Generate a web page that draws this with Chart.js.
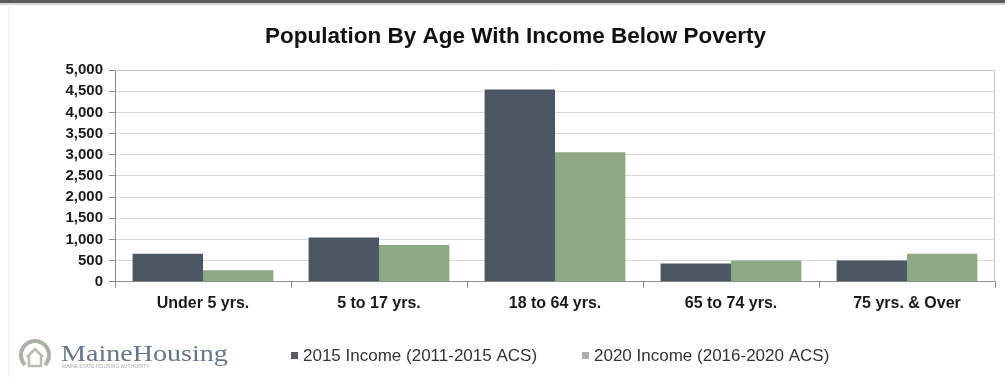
<!DOCTYPE html>
<html lang="en">
<head>
    <meta charset="UTF-8">
    <title>Population By Age With Income Below Poverty</title>
    <script src="https://cdn.jsdelivr.net/npm/chart.js"></script>
    <style>
        * { margin: 0; padding: 0; box-sizing: border-box; }
        body { background: #ffffff; width: 1005px; height: 377px; overflow: hidden; }
        .chart-box { position: relative; width: 1005px; height: 377px; }
    </style>
</head>
<body>
    <div class="chart-box">
        <canvas id="povertyChart"></canvas>
    </div>

    <script>
        // Age groups and counts of people below poverty
        const ageGroups = ['Under 5 yrs.', '5 to 17 yrs.', '18 to 64 yrs.', '65 to 74 yrs.', '75 yrs. & Over'];
        const income2015 = [665, 1045, 4540, 430, 500];
        const income2020 = [270, 870, 3060, 500, 665];
        const seriesNames = ['2015 Income (2011-2015 ACS)', '2020 Income (2016-2020 ACS)'];
        const yTickLabels = ['0', '500', '1,000', '1,500', '2,000', '2,500', '3,000', '3,500', '4,000', '4,500', '5,000'];

        const FONT = "'Liberation Sans', Arial, sans-serif";
        const swatchColors = ['#575d66', '#aab0a6'];

        // frame line across the top and faint page edges
        const framePlugin = {
            id: 'frame',
            beforeDraw(chart) {
                const ctx = chart.ctx;
                ctx.save();
                ctx.fillStyle = '#ffffff';
                ctx.fillRect(0, 0, chart.width, chart.height);
                ctx.fillStyle = '#5a5a5a';
                ctx.fillRect(0, 0, chart.width, 3);
                ctx.fillStyle = '#d6d6d6';
                ctx.fillRect(0, 3, chart.width, 2);
                ctx.strokeStyle = '#efefef';
                ctx.lineWidth = 1;
                ctx.beginPath();
                ctx.moveTo(8.5, 6);
                ctx.lineTo(8.5, chart.height);
                ctx.stroke();
                ctx.restore();
            }
        };

        // light box around the plot area
        const plotBorderPlugin = {
            id: 'plotBorder',
            beforeDatasetsDraw(chart) {
                const { ctx, chartArea: a } = chart;
                ctx.save();
                ctx.strokeStyle = '#c4c4c4';
                ctx.lineWidth = 1;
                ctx.beginPath();
                ctx.moveTo(a.left, a.top + 0.5);
                ctx.lineTo(a.right - 0.5, a.top + 0.5);
                ctx.lineTo(a.right - 0.5, a.bottom);
                ctx.stroke();
                ctx.restore();
            }
        };

        // legend row plus the MaineHousing mark in the footer
        const footerPlugin = {
            id: 'footer',
            afterDraw(chart) {
                const ctx = chart.ctx;
                ctx.save();

                // legend
                const startX = [291, 582];
                const y = 356;
                ctx.font = '17px ' + FONT;
                ctx.textBaseline = 'middle';
                chart.data.datasets.forEach((ds, i) => {
                    ctx.fillStyle = swatchColors[i];
                    ctx.fillRect(startX[i], y - 4, 7, 7);
                    ctx.fillStyle = '#333333';
                    ctx.fillText(ds.label, startX[i] + 12, y);
                });

                // logo icon
                ctx.strokeStyle = '#a9b3a4';
                ctx.lineWidth = 4;
                ctx.beginPath();
                ctx.arc(35, 355, 14, Math.PI * 0.75, Math.PI * 2.25);
                ctx.stroke();
                ctx.lineWidth = 2.5;
                ctx.strokeStyle = '#b5beb0';
                ctx.beginPath();
                ctx.moveTo(27, 357);
                ctx.lineTo(35, 349);
                ctx.lineTo(43, 357);
                ctx.moveTo(29, 356);
                ctx.lineTo(29, 366);
                ctx.lineTo(41, 366);
                ctx.lineTo(41, 356);
                ctx.stroke();

                // logo wordmark
                ctx.fillStyle = '#66758a';
                ctx.textBaseline = 'alphabetic';
                ctx.translate(61, 361);
                ctx.scale(1.17, 1);
                ctx.font = "24px 'Liberation Serif', 'DejaVu Serif', serif";
                ctx.fillText('MaineHousing', 0, 0);
                ctx.setTransform(1, 0, 0, 1, 0, 0);
                ctx.fillStyle = '#a4acb6';
                ctx.font = '5px ' + FONT;
                ctx.fillText('MAINE STATE HOUSING AUTHORITY', 62, 368);
                ctx.restore();
            }
        };

        const ctx = document.getElementById('povertyChart').getContext('2d');
        new Chart(ctx, {
            type: 'bar',
            data: {
                labels: ageGroups,
                datasets: [
                    {
                        label: seriesNames[0],
                        data: income2015,
                        backgroundColor: '#4c5664',
                        borderWidth: 0
                    },
                    {
                        label: seriesNames[1],
                        data: income2020,
                        backgroundColor: '#8fa886',
                        borderWidth: 0
                    }
                ]
            },
            options: {
                responsive: true,
                maintainAspectRatio: false,
                animation: false,
                devicePixelRatio: 1,
                datasets: {
                    bar: {
                        categoryPercentage: 0.8,
                        barPercentage: 1.0
                    }
                },
                layout: {
                    padding: { top: 0, left: 36, right: 10, bottom: 58 }
                },
                plugins: {
                    legend: { display: false },
                    tooltip: { enabled: false },
                    title: {
                        display: true,
                        text: 'Population By Age With Income Below Poverty',
                        color: '#111111',
                        font: { family: FONT, size: 22.5, weight: 'bold' },
                        padding: { top: 23, bottom: 20 }
                    }
                },
                scales: {
                    x: {
                        offset: true,
                        grid: {
                            display: true,
                            offset: true,
                            drawOnChartArea: false,
                            drawTicks: true,
                            tickLength: 6,
                            color: '#8c8c8c'
                        },
                        border: { display: true, color: '#8c8c8c', width: 1 },
                        ticks: {
                            color: '#1a1a1a',
                            padding: 6,
                            font: { family: FONT, size: 16, weight: 'bold' }
                        }
                    },
                    y: {
                        min: 0,
                        max: 5000,
                        afterFit(scale) {
                            scale.width = 79;
                        },
                        ticks: {
                            stepSize: 500,
                            autoSkip: false,
                            color: '#1a1a1a',
                            padding: 6,
                            font: { family: FONT, size: 15, weight: 'bold' },
                            callback: (value, index) => yTickLabels[index]
                        },
                        grid: {
                            color: '#d9d9d9',
                            tickColor: '#8c8c8c',
                            tickLength: 6
                        },
                        border: { display: true, color: '#8c8c8c', width: 1 }
                    }
                }
            },
            plugins: [framePlugin, plotBorderPlugin, footerPlugin]
        });
    </script>
</body>
</html>
